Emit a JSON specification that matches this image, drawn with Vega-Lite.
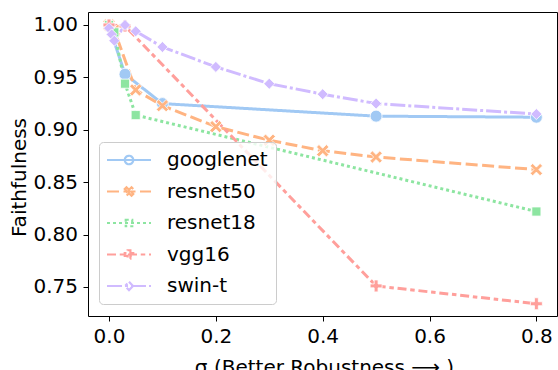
{
  "$schema": "https://vega.github.io/schema/vega-lite/v6.json",
  "width": 469,
  "height": 304,
  "autosize": {"type": "none"},
  "padding": {"left": 88, "top": 12, "right": 1, "bottom": 54},
  "background": "white",
  "config": {
    "view": {"stroke": "black", "strokeWidth": 1},
    "font": "DejaVu Sans",
    "axis": {
      "grid": false,
      "domain": false,
      "tickColor": "black",
      "tickSize": 5,
      "tickWidth": 1,
      "labelColor": "black",
      "labelFont": "DejaVu Sans",
      "labelFontSize": 20,
      "labelPadding": 5.5,
      "titleFont": "DejaVu Sans",
      "titleFontSize": 20,
      "titleFontWeight": "normal",
      "titleColor": "black"
    },
    "legend": {
      "labelFont": "DejaVu Sans",
      "labelFontSize": 20,
      "labelColor": "black"
    }
  },
  "data": {
    "values": [
      {"model": "googlenet", "sigma": 0, "faith": 0.999},
      {"model": "googlenet", "sigma": 0.03, "faith": 0.953},
      {"model": "googlenet", "sigma": 0.1, "faith": 0.925},
      {"model": "googlenet", "sigma": 0.5, "faith": 0.913},
      {"model": "googlenet", "sigma": 0.8, "faith": 0.912},
      {"model": "resnet50", "sigma": 0, "faith": 1.0},
      {"model": "resnet50", "sigma": 0.01, "faith": 0.995},
      {"model": "resnet50", "sigma": 0.05, "faith": 0.938},
      {"model": "resnet50", "sigma": 0.1, "faith": 0.923},
      {"model": "resnet50", "sigma": 0.2, "faith": 0.903},
      {"model": "resnet50", "sigma": 0.3, "faith": 0.89},
      {"model": "resnet50", "sigma": 0.4, "faith": 0.88},
      {"model": "resnet50", "sigma": 0.5, "faith": 0.874},
      {"model": "resnet50", "sigma": 0.8, "faith": 0.862},
      {"model": "resnet18", "sigma": 0, "faith": 1.0},
      {"model": "resnet18", "sigma": 0.01, "faith": 0.993},
      {"model": "resnet18", "sigma": 0.03, "faith": 0.944},
      {"model": "resnet18", "sigma": 0.05, "faith": 0.914},
      {"model": "resnet18", "sigma": 0.8, "faith": 0.822},
      {"model": "vgg16", "sigma": 0, "faith": 1.0},
      {"model": "vgg16", "sigma": 0.03, "faith": 0.999},
      {"model": "vgg16", "sigma": 0.5, "faith": 0.751},
      {"model": "vgg16", "sigma": 0.8, "faith": 0.734},
      {"model": "swin-t", "sigma": 0, "faith": 0.997},
      {"model": "swin-t", "sigma": 0.005, "faith": 0.991},
      {"model": "swin-t", "sigma": 0.01, "faith": 0.985},
      {"model": "swin-t", "sigma": 0.03, "faith": 1.0},
      {"model": "swin-t", "sigma": 0.05, "faith": 0.994},
      {"model": "swin-t", "sigma": 0.1, "faith": 0.979},
      {"model": "swin-t", "sigma": 0.2, "faith": 0.96},
      {"model": "swin-t", "sigma": 0.3, "faith": 0.944},
      {"model": "swin-t", "sigma": 0.4, "faith": 0.934},
      {"model": "swin-t", "sigma": 0.5, "faith": 0.925},
      {"model": "swin-t", "sigma": 0.8, "faith": 0.915}
    ]
  },
  "encoding": {
    "x": {
      "field": "sigma",
      "type": "quantitative",
      "scale": {"domain": [-0.0393, 0.8386], "nice": false, "zero": false},
      "axis": {
        "values": [0, 0.2, 0.4, 0.6, 0.8],
        "format": ".1f",
        "title": "σ (Better Robustness ⟶ )",
        "titleX": 236,
        "titleY": 57.5,
        "titleBaseline": "alphabetic"
      }
    },
    "y": {
      "field": "faith",
      "type": "quantitative",
      "scale": {"domain": [0.7223, 1.0124], "nice": false, "zero": false},
      "axis": {
        "values": [0.75, 0.8, 0.85, 0.9, 0.95, 1.0],
        "format": ".2f",
        "title": "Faithfulness",
        "titleX": -62.7,
        "titleY": 165,
        "titleBaseline": "alphabetic",
        "titleAngle": -90
      }
    }
  },
  "layer": [
    {
      "mark": {"type": "point", "filled": true, "opacity": 0, "strokeWidth": 2.2},
      "encoding": {
        "stroke": {
          "field": "model",
          "type": "nominal",
          "scale": {
            "domain": ["googlenet", "resnet50", "resnet18", "vgg16", "swin-t"],
            "range": ["#a1c9f4", "#ffb482", "#8de5a1", "#ff9f9b", "#d0bbff"]
          },
          "legend": {
            "title": null,
            "orient": "none",
            "legendX": 11,
            "legendY": 130,
            "padding": 8,
            "strokeColor": "#cccccc",
            "fillColor": "rgba(255,255,255,0.8)",
            "cornerRadius": 4,
            "symbolSize": 100,
            "symbolStrokeWidth": 2.2,
            "symbolOpacity": 1,
            "labelOffset": 40,
            "rowPadding": 11.5
          }
        },
        "fill": {
          "field": "model",
          "type": "nominal",
          "scale": {
            "domain": ["googlenet", "resnet50", "resnet18", "vgg16", "swin-t"],
            "range": ["#a1c9f4", "#ffb482", "#8de5a1", "#ff9f9b", "#d0bbff"]
          }
        },
        "strokeDash": {
          "field": "model",
          "type": "nominal",
          "scale": {
            "domain": ["googlenet", "resnet50", "resnet18", "vgg16", "swin-t"],
            "range": [[1, 0], [12, 4.5], [3, 3], [9, 3.75, 4.5, 3.75], [15, 3, 3, 3]]
          }
        },
        "shape": {
          "field": "model",
          "type": "nominal",
          "scale": {
            "domain": ["googlenet", "resnet50", "resnet18", "vgg16", "swin-t"],
            "range": [
              "M-2,0H6.8M1.55,0A0.85,0.85,0,1,1,3.25,0A0.85,0.85,0,1,1,1.55,0Z",
              "M-2,0H6.8M1.55,-0.51L1.89,-0.85L2.4,-0.34L2.91,-0.85L3.25,-0.51L2.74,0L3.25,0.51L2.91,0.85L2.4,0.34L1.89,0.85L1.55,0.51L2.06,0Z",
              "M-2,0H6.8M1.75,-0.65H3.05V0.65H1.75Z",
              "M-2,0H6.8M2.12,-0.85H2.68V-0.28H3.25V0.28H2.68V0.85H2.12V0.28H1.55V-0.28H2.12Z",
              "M-2,0H6.8M2.4,-0.85L3.2,0L2.4,0.85L1.6,0Z"
            ]
          }
        }
      }
    },
    {
      "mark": {"type": "line", "strokeWidth": 3},
      "encoding": {
        "stroke": {"field": "model", "type": "nominal"},
        "strokeDash": {"field": "model", "type": "nominal"}
      }
    },
    {
      "transform": [{"filter": {"field": "model", "equal": "googlenet"}}],
      "mark": {"type": "point", "filled": true, "opacity": 1, "size": 169, "color": "#a1c9f4", "stroke": "white", "strokeWidth": 0.8, "shape": "M-0.92,0A0.92,0.92,0,1,1,0.92,0A0.92,0.92,0,1,1,-0.92,0Z"}
    },
    {
      "transform": [{"filter": {"field": "model", "equal": "resnet50"}}],
      "mark": {"type": "point", "filled": true, "opacity": 1, "size": 169, "color": "#ffb482", "stroke": "white", "strokeWidth": 0.8, "shape": "M-0.95,-0.57L-0.57,-0.95L0,-0.38L0.57,-0.95L0.95,-0.57L0.38,0L0.95,0.57L0.57,0.95L0,0.38L-0.57,0.95L-0.95,0.57L-0.38,0Z"}
    },
    {
      "transform": [{"filter": {"field": "model", "equal": "resnet18"}}],
      "mark": {"type": "point", "filled": true, "opacity": 1, "size": 169, "color": "#8de5a1", "stroke": "white", "strokeWidth": 0.8, "shape": "M-0.7,-0.7H0.7V0.7H-0.7Z"}
    },
    {
      "transform": [{"filter": {"field": "model", "equal": "vgg16"}}],
      "mark": {"type": "point", "filled": true, "opacity": 1, "size": 169, "color": "#ff9f9b", "stroke": "white", "strokeWidth": 0.8, "shape": "M-0.3,-0.92H0.3V-0.3H0.92V0.3H0.3V0.92H-0.3V0.3H-0.92V-0.3H-0.3Z"}
    },
    {
      "transform": [{"filter": {"field": "model", "equal": "swin-t"}}],
      "mark": {"type": "point", "filled": true, "opacity": 1, "size": 169, "color": "#d0bbff", "stroke": "white", "strokeWidth": 0.8, "shape": "M0,-0.85L0.85,0L0,0.85L-0.85,0Z"}
    }
  ]
}
